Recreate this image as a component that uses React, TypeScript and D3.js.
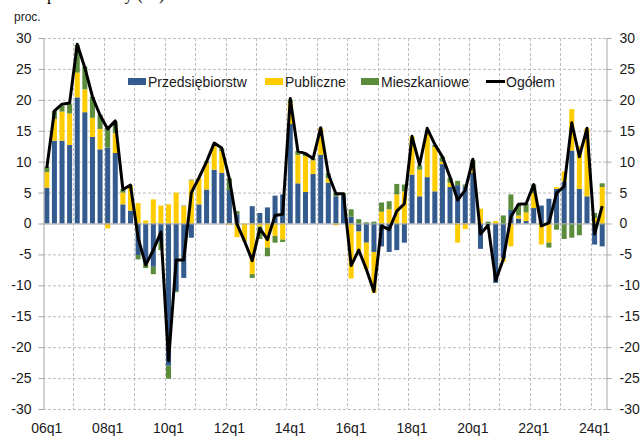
import { useEffect, useRef } from "react";
import * as d3 from "d3";

// quarters 06q1 .. 24q2
const years = d3.range(6, 25);
const quarters: string[] = years
  .flatMap((y) => [1, 2, 3, 4].map((q) => `${String(y).padStart(2, "0")}q${q}`))
  .slice(0, 74);

const xTickLabels = ["06q1", "08q1", "10q1", "12q1", "14q1", "16q1", "18q1", "20q1", "22q1", "24q1"];
const yTicks = [-30, -25, -20, -15, -10, -5, 0, 5, 10, 15, 20, 25, 30];

const przedsiebiorstw = [
  5.8, 13.4, 13.4, 12.7, 20.4, 18.0, 14.0, 12.0, 12.3, 11.4, 3.1, 2.1,
  -5.1, -6.5, -7.0, -3.0, -23.0, -10.9, -8.8, -2.3, 3.1, 5.5, 8.7, 8.2,
  5.4, 1.5, 0, 2.8, 1.7, 2.6, 4.5, 4.7, 16.1, 6.5, 5.1, 8.0,
  11.1, 6.6, 4.4, 4.5, 1.1, -1.3, -3.1, -4.6, -3.7, -4.6, -4.3, -3.1,
  7.9, 4.4, 7.5, 5.2, 9.6, 5.9, 6.2, 6.0, 8.2, -4.1, -0.3, -9.6,
  -5.6, 2.2, 0.8, 0.4, 2.5, 2.9, 4.0, 5.6, 6.8, 11.8, 5.6, 4.4,
  -3.4, -3.7,
];
const publiczne = [
  2.5, 3.5, 4.7, 5.1, 4.0, 3.7, 3.1, 3.3, -0.8, 3.2, 1.9, 4.0,
  3.3, 0.5, 3.9, 2.9, 3.1, 5.0, 2.8, 7.0, 4.2, 4.3, 3.8, 3.5,
  -0.2, -2.2, -2.9, -8.2, -0.5, -3.9, -2.0, -2.6, 3.4, 4.6, 5.8, 2.2,
  4.4, 0.7, -0.3, 0, -8.9, -3.6, -4.3, -6.6, 1.9, 2.3, 4.7, 5.2,
  6.2, 4.3, 7.0, 7.2, 0.4, 0.7, -3.1, -0.9, 0.9, 2.4, 0, 0.4,
  -0.6, -3.7, 0.5, 1.4, 2.4, -3.4, -3.1, 0.3, 1.6, 6.7, 6.9, 11.0,
  0.9, 5.9,
];
const mieszkaniowe = [
  0.9, 1.3, 0.9, 1.6, 4.5, 3.7, 3.4, 2.3, 3.2, 1.9, 0.5, 0.1,
  -0.7, -0.7, -1.2, -1.3, -2.1, -0.2, 0.1, 0.1, 0, 0.2, 0.3, 0.4,
  1.9, 0.5, 0, -0.6, -2.0, -1.4, -1.1, -0.4, 0.5, 0.6, 0.3, 0.3,
  0, 0.8, 0.5, 0.4, 1.2, 0.7, 0.2, 0.3, 1.5, 1.3, 1.7, 1.1,
  0, 0.7, 0, 0.3, 0.8, 0.8, 0.7, 0.3, 1.2, 0, 0.3, 0,
  1.3, 2.5, 1.8, 1.4, 1.4, 0, -0.8, -1.0, -2.5, -2.3, -1.9, 0,
  0.8, 0.6,
];
const ogolem = [
  9.0, 18.2, 19.3, 19.5, 29.0, 25.2, 20.5, 17.5, 15.3, 16.6, 5.5, 6.2,
  -2.3, -6.7, -4.3, -1.4, -22.2, -5.9, -5.9, 5.0, 7.4, 10.0, 13.0, 12.2,
  7.2, -0.1, -2.9, -6.0, -0.8, -2.6, 1.3, 1.5, 20.2, 11.7, 11.3, 10.5,
  15.5, 8.0, 4.8, 4.8, -6.8, -4.3, -7.4, -11.0, -0.4, -1.0, 2.0, 3.2,
  14.1, 9.5, 15.4, 12.8, 10.8, 7.5, 3.8, 5.4, 10.4, -1.7, -0.3, -9.2,
  -5.8, 1.1, 3.1, 3.2, 6.3, -0.4, 0.1, 4.9, 6.0, 16.3, 10.8, 15.4,
  -1.7, 2.8,
];

const seriesNames = ["Przedsiębiorstw", "Publiczne", "Mieszkaniowe"];
const seriesColors = ["#345B8E", "#FFCC00", "#5A8C3C"];

const W = 641;
const H = 437;
const font = "'Liberation Sans', Arial, sans-serif";

const App = () => {
  const ref = useRef<SVGSVGElement | null>(null);

  useEffect(() => {
    if (!ref.current) return;
    const svg = d3.select(ref.current);
    svg.selectAll("*").remove();

    const left = 43;
    const right = 606;
    const top = 38;
    const bottom = 409;

    const x = d3.scaleBand<string>().domain(quarters).range([left, right]).paddingInner(0.34).paddingOuter(0.17);
    const y = d3.scaleLinear().domain([-30, 30]).range([bottom, top]);
    const step = x.step();
    const cx = (q: string) => (x(q) ?? 0) + x.bandwidth() / 2;

    // heading line above the chart, cut off by the top edge as in the source
    svg
      .append("text")
      .attr("x", 47)
      .attr("y", 0)
      .attr("font-family", "'Liberation Serif', 'Times New Roman', serif")
      .attr("font-size", 17)
      .attr("fill", "#000")
      .text("podmiotowy (r/r)");

    svg
      .append("text")
      .attr("x", 14)
      .attr("y", 21)
      .attr("font-family", font)
      .attr("font-size", 12)
      .attr("fill", "#222")
      .text("proc.");

    const grid = svg.append("g").attr("stroke", "#BDBDBD").attr("stroke-dasharray", "3,2").attr("stroke-width", 1);
    yTicks
      .filter((t) => t !== 0)
      .forEach((t) => {
        grid.append("line").attr("x1", left).attr("x2", right).attr("y1", y(t) + 0.5).attr("y2", y(t) + 0.5);
      });
    quarters.forEach((q, i) => {
      if (i > 0 && i % 4 === 0) {
        const gx = Math.round((x(q) ?? 0) - (step * x.paddingInner()) / 2) + 0.5;
        grid.append("line").attr("x1", gx).attr("x2", gx).attr("y1", top).attr("y2", bottom);
      }
    });

    const rows = quarters.map((q, i) => ({
      q,
      Przedsiębiorstw: przedsiebiorstw[i],
      Publiczne: publiczne[i],
      Mieszkaniowe: mieszkaniowe[i],
    }));
    const stacked = d3.stack<any>().keys(seriesNames).offset(d3.stackOffsetDiverging)(rows);

    svg
      .append("g")
      .selectAll("g")
      .data(stacked)
      .enter()
      .append("g")
      .attr("fill", (_, i) => seriesColors[i])
      .selectAll("rect")
      .data((d) => d)
      .enter()
      .append("rect")
      .attr("x", (d) => x(d.data.q) ?? 0)
      .attr("width", x.bandwidth())
      .attr("y", (d) => y(Math.max(d[0], d[1])))
      .attr("height", (d) => Math.abs(y(d[0]) - y(d[1])));

    // zero line
    svg
      .append("line")
      .attr("x1", left)
      .attr("x2", right)
      .attr("y1", y(0) + 0.5)
      .attr("y2", y(0) + 0.5)
      .attr("stroke", "#A6A6A6")
      .attr("stroke-width", 1.2);

    const line = d3
      .line<number>()
      .x((_, i) => cx(quarters[i]))
      .y((d) => y(d));

    svg
      .append("path")
      .datum(ogolem)
      .attr("fill", "none")
      .attr("stroke", "#000")
      .attr("stroke-width", 3)
      .attr("stroke-linejoin", "round")
      .attr("d", line);

    const styleAxis = (g: d3.Selection<SVGGElement, unknown, null, undefined>) => {
      g.select(".domain").attr("stroke", "#A6A6A6");
      g.selectAll(".tick line").attr("stroke", "#A6A6A6");
      g.selectAll(".tick text").attr("font-family", font).attr("font-size", 14).attr("fill", "#1a1a1a");
    };
    const fmt = (d: d3.NumberValue) => String(d);

    svg
      .append("g")
      .attr("transform", `translate(${left + 0.5},0)`)
      .call(d3.axisLeft(y).tickValues(yTicks).tickFormat(fmt).tickSize(5).tickSizeOuter(0).tickPadding(7))
      .call(styleAxis);

    svg
      .append("g")
      .attr("transform", `translate(${right + 0.5},0)`)
      .call(d3.axisRight(y).tickValues(yTicks).tickFormat(fmt).tickSize(5).tickSizeOuter(0).tickPadding(8))
      .call(styleAxis);

    svg
      .append("g")
      .attr("transform", `translate(0,${bottom})`)
      .call(d3.axisBottom(x).tickValues(xTickLabels).tickSize(0).tickPadding(14))
      .call((g) => g.select(".domain").remove())
      .call((g) => g.selectAll(".tick text").attr("font-family", font).attr("font-size", 14).attr("fill", "#1a1a1a"));

    // legend
    const legendItems = [
      { name: "Przedsiębiorstw", color: seriesColors[0], x: 128, type: "rect" },
      { name: "Publiczne", color: seriesColors[1], x: 265, type: "rect" },
      { name: "Mieszkaniowe", color: seriesColors[2], x: 361, type: "rect" },
      { name: "Ogółem", color: "#000", x: 486, type: "line" },
    ];
    const legend = svg.append("g").attr("font-family", font).attr("font-size", 14).attr("fill", "#1a1a1a");
    legendItems.forEach((it) => {
      if (it.type === "rect") {
        legend.append("rect").attr("x", it.x).attr("y", 78).attr("width", 18).attr("height", 7).attr("fill", it.color);
      } else {
        legend
          .append("line")
          .attr("x1", it.x)
          .attr("x2", it.x + 19)
          .attr("y1", 81.5)
          .attr("y2", 81.5)
          .attr("stroke", it.color)
          .attr("stroke-width", 3);
      }
      legend.append("text").attr("x", it.x + 20).attr("y", 86.5).text(it.name);
    });
  }, []);

  return <svg ref={ref} width={W} height={H} style={{ position: "absolute", left: 0, top: 0, background: "#fff" }} />;
};

export default App;
